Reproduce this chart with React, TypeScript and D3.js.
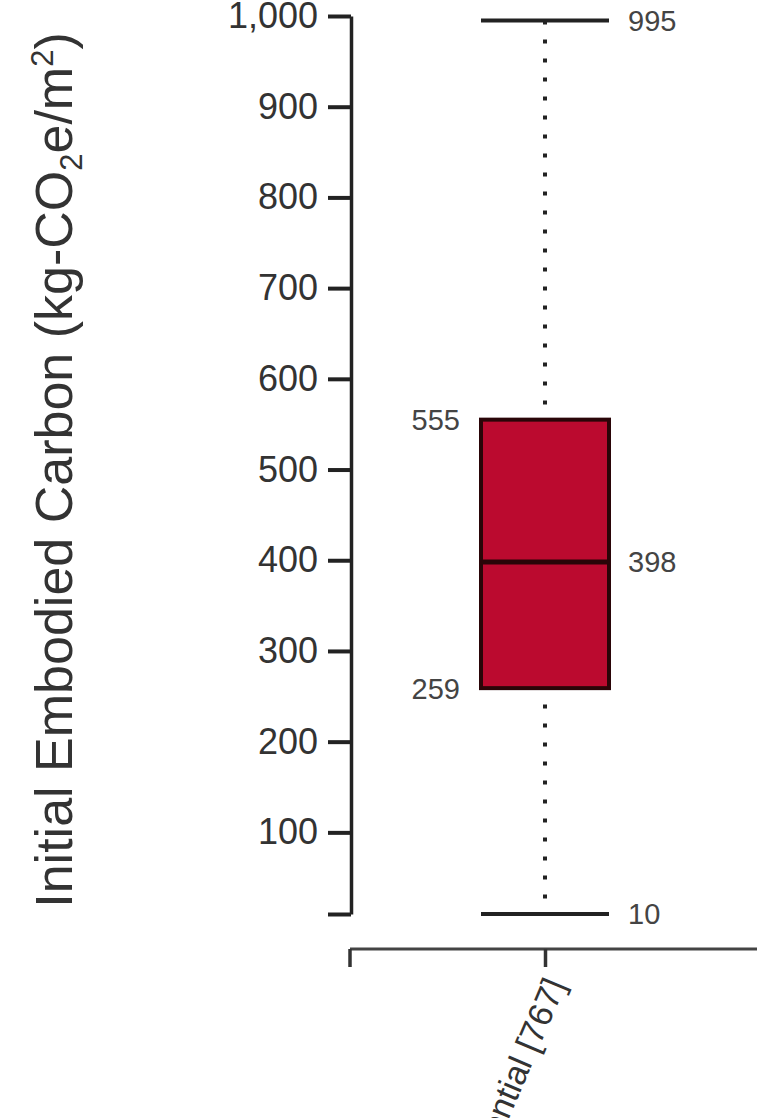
import React, { useEffect, useRef } from 'react';
import * as d3 from 'd3';

const categories = ['Residential [767]'];
const whiskerLow = [10];
const q1 = [259];
const medians = [398];
const q3 = [555];
const whiskerHigh = [995];
const yTicks = [10, 100, 200, 300, 400, 500, 600, 700, 800, 900, 1000];

const W = 757;
const H = 1118;

export default function App() {
  const ref = useRef<SVGSVGElement>(null);

  useEffect(() => {
    const svg = d3.select(ref.current);
    svg.selectAll('*').remove();

    const y = d3.scaleLinear().domain([10, 1000]).range([914, 16]);
    const x = d3.scalePoint().domain(categories).range([350, 740]).padding(0.5);
    const boxW = 128;

    // y axis
    const yAxis = svg
      .append('g')
      .attr('transform', 'translate(351,0)')
      .call(
        d3
          .axisLeft(y)
          .tickValues(yTicks)
          .tickSize(23)
          .tickSizeOuter(0)
          .tickPadding(10)
          .tickFormat((d) => (+d === 10 ? '' : d3.format(',')(+d)))
      );
    yAxis.select('.domain').attr('stroke', '#222').attr('stroke-width', 3.5);
    yAxis.selectAll('.tick line').attr('stroke', '#222').attr('stroke-width', 4);
    yAxis
      .selectAll('.tick text')
      .attr('fill', '#333')
      .attr('font-size', 36)
      .attr('font-family', 'Liberation Sans, Arial, sans-serif');

    // x axis
    const xAxis = svg
      .append('g')
      .attr('transform', 'translate(0,949)')
      .call(d3.axisBottom(x).tickSize(18).tickSizeOuter(0).tickFormat(() => ''));
    xAxis.select('.domain').attr('d', 'M350,0H757').attr('stroke', '#444').attr('stroke-width', 3);
    xAxis.selectAll('.tick line').attr('stroke', '#333').attr('stroke-width', 3.5);
    xAxis
      .append('line')
      .attr('x1', 350)
      .attr('x2', 350)
      .attr('y1', 0)
      .attr('y2', 18)
      .attr('stroke', '#333')
      .attr('stroke-width', 3.5);

    svg
      .append('g')
      .selectAll('text')
      .data(categories)
      .enter()
      .append('text')
      .attr('transform', (d) => `translate(${(x(d) as number) + 10},980) rotate(-67)`)
      .attr('text-anchor', 'end')
      .attr('dy', '0.35em')
      .attr('font-size', 34)
      .attr('font-family', 'Liberation Sans, Arial, sans-serif')
      .attr('fill', '#333')
      .text((d) => d);

    // boxes
    const g = svg.append('g');
    categories.forEach((c, i) => {
      const cx = x(c) as number;
      g.append('line')
        .attr('x1', cx)
        .attr('x2', cx)
        .attr('y1', y(whiskerHigh[i]))
        .attr('y2', y(whiskerLow[i]))
        .attr('stroke', '#222')
        .attr('stroke-width', 4)
        .attr('stroke-dasharray', '4,15');
      [whiskerHigh[i], whiskerLow[i]].forEach((v) => {
        g.append('line')
          .attr('x1', cx - boxW / 2)
          .attr('x2', cx + boxW / 2)
          .attr('y1', y(v))
          .attr('y2', y(v))
          .attr('stroke', '#222')
          .attr('stroke-width', 4);
      });
      g.append('rect')
        .attr('x', cx - boxW / 2)
        .attr('y', y(q3[i]))
        .attr('width', boxW)
        .attr('height', y(q1[i]) - y(q3[i]))
        .attr('fill', '#bb0a2f')
        .attr('stroke', '#2a0508')
        .attr('stroke-width', 4);
      g.append('line')
        .attr('x1', cx - boxW / 2)
        .attr('x2', cx + boxW / 2)
        .attr('y1', y(medians[i]))
        .attr('y2', y(medians[i]))
        .attr('stroke', '#2a0508')
        .attr('stroke-width', 5);

      const lab = (v: number, side: 'left' | 'right') =>
        g.append('text')
          .attr('x', side === 'right' ? cx + boxW / 2 + 19 : cx - boxW / 2 - 21)
          .attr('y', y(v))
          .attr('dy', '0.36em')
          .attr('text-anchor', side === 'right' ? 'start' : 'end')
          .attr('font-size', 29)
          .attr('font-family', 'Liberation Sans, Arial, sans-serif')
          .attr('fill', '#444')
          .text(v);
      lab(whiskerHigh[i], 'right');
      lab(medians[i], 'right');
      lab(whiskerLow[i], 'right');
      lab(q3[i], 'left');
      lab(q1[i], 'left');
    });

    // y title
    const title = svg
      .append('text')
      .attr('transform', 'translate(72,470) rotate(-90)')
      .attr('text-anchor', 'middle')
      .attr('font-size', 52)
      .attr('font-family', 'Liberation Sans, Arial, sans-serif')
      .attr('fill', '#333');
    title.append('tspan').text('Initial Embodied Carbon (kg-CO');
    title.append('tspan').attr('font-size', 31).attr('dy', 10).text('2');
    title.append('tspan').attr('dy', -10).text('e/m');
    title.append('tspan').attr('font-size', 31).attr('dy', -19).text('2');
    title.append('tspan').attr('dy', 19).text(')');
  }, []);

  return (
    <div style={{ position: 'absolute', left: 0, top: 0 }}>
      <svg ref={ref} width={W} height={H} style={{ display: 'block', background: '#fff' }} />
    </div>
  );
}
